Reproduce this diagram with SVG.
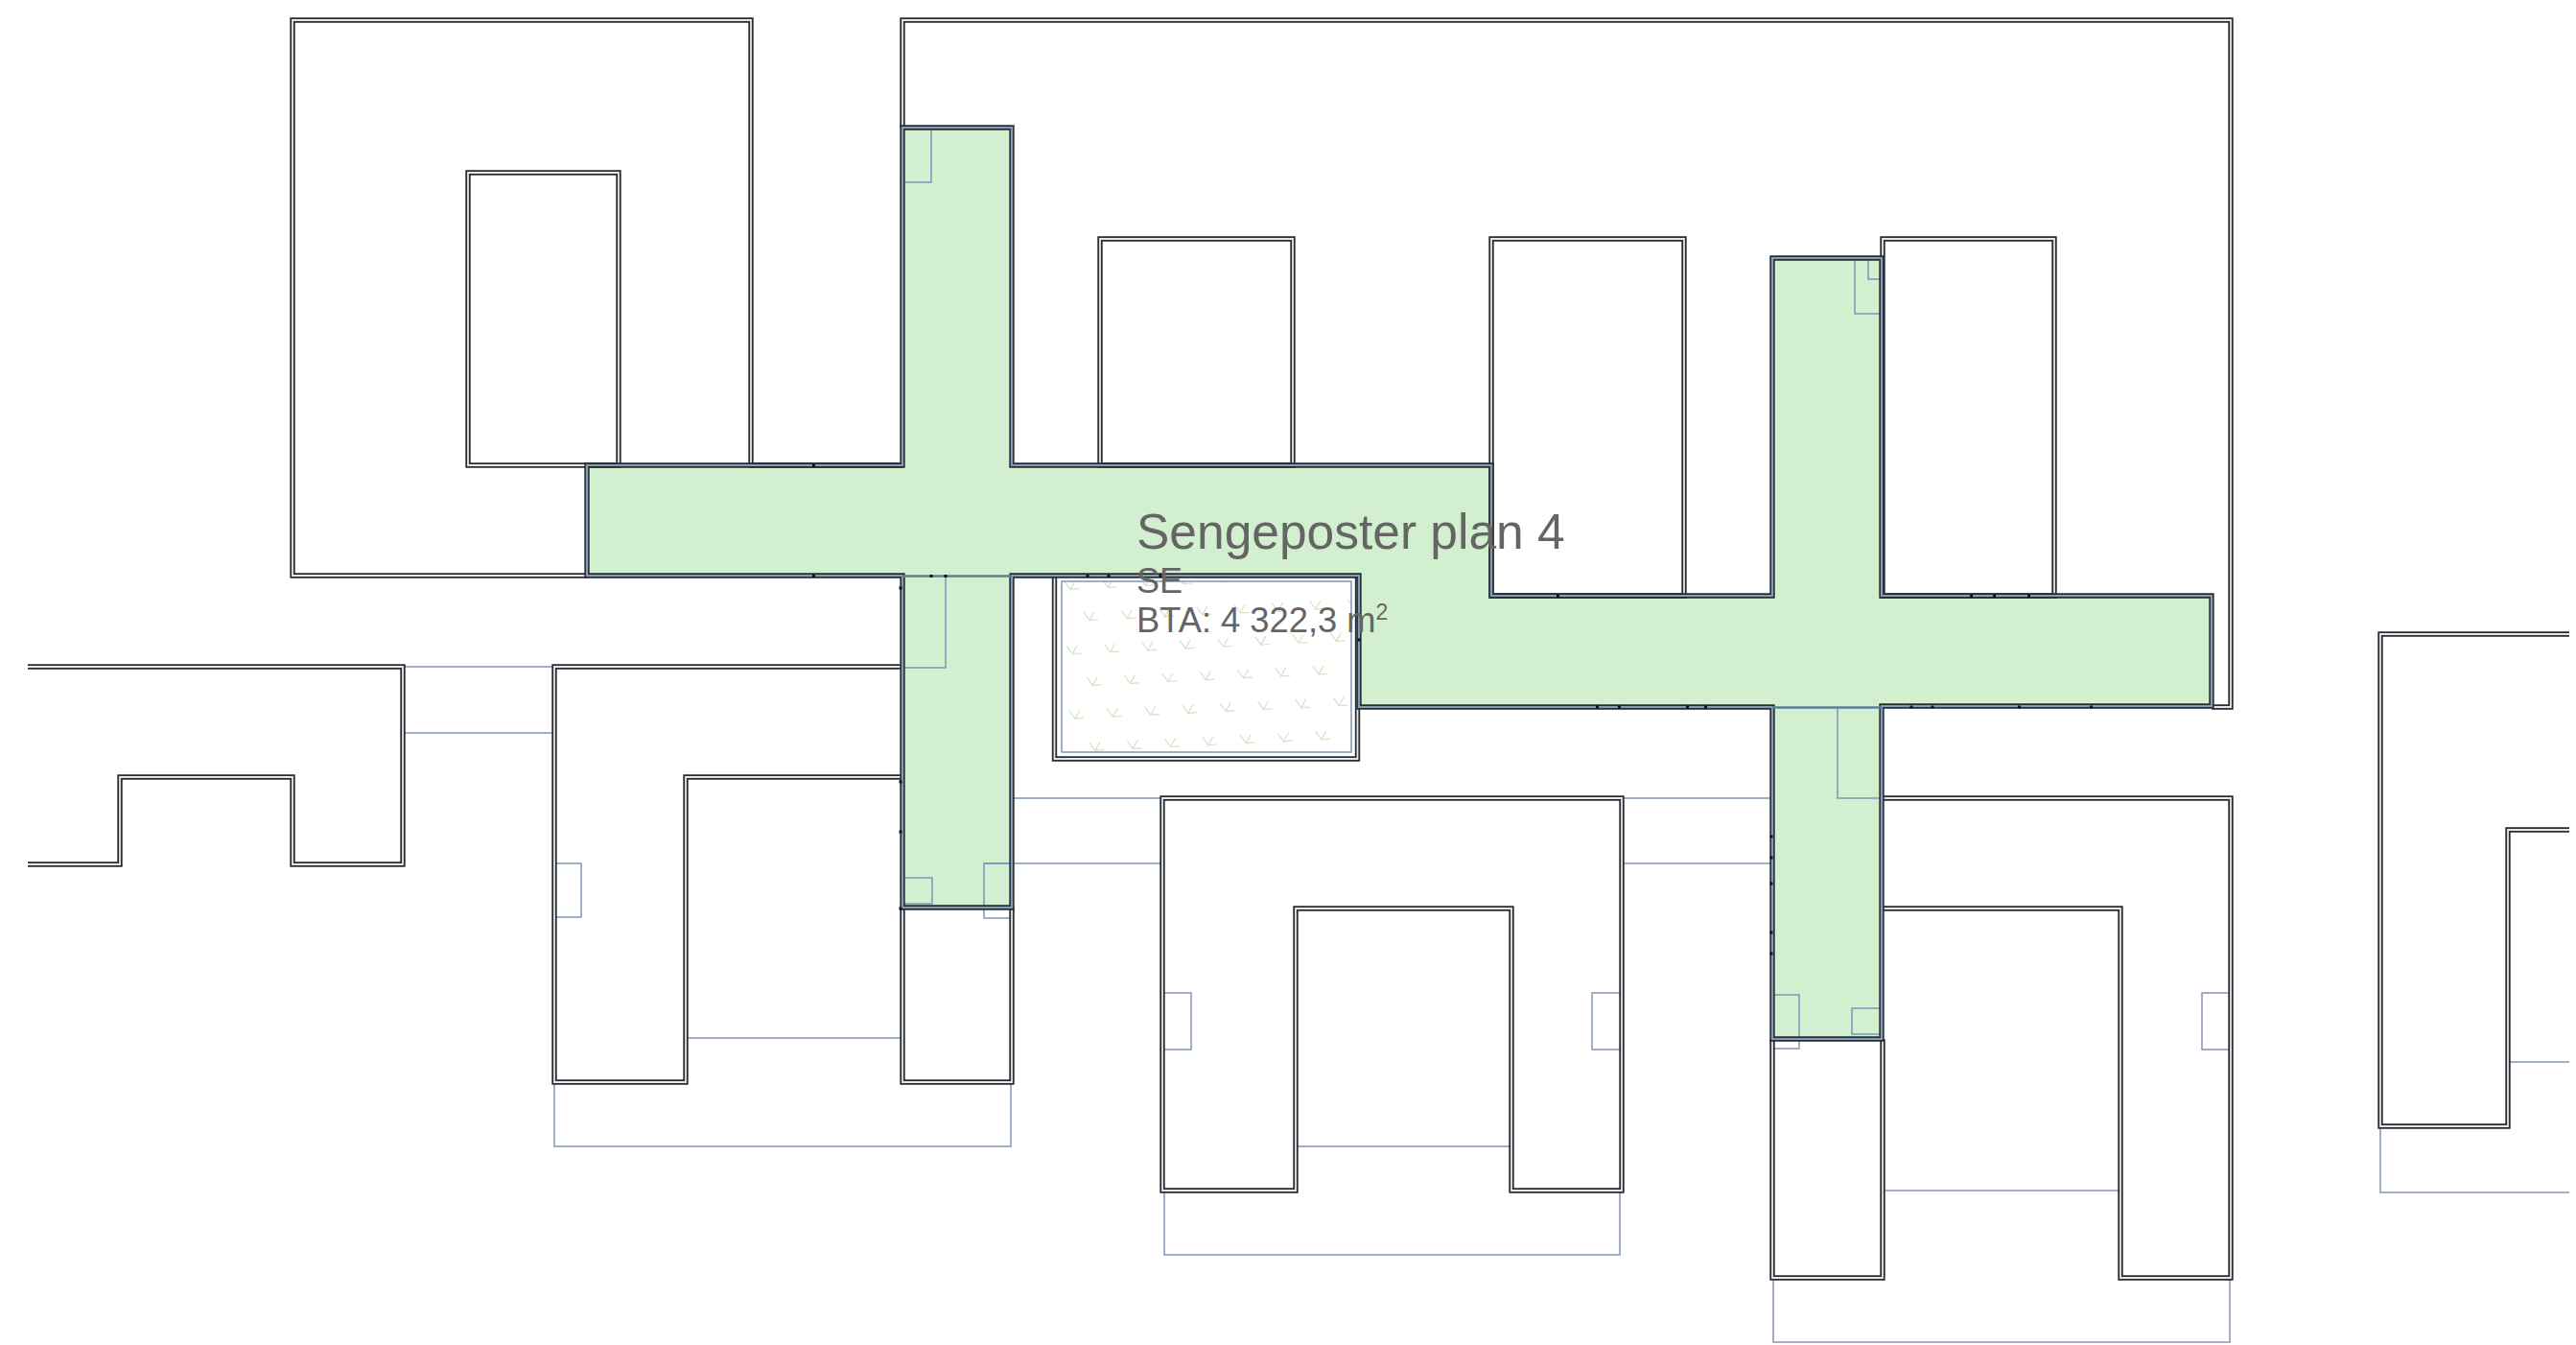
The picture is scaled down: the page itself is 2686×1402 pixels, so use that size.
<svg xmlns="http://www.w3.org/2000/svg" width="2686" height="1402" viewBox="0 0 2686 1402">
<style>
.wo{fill:none;stroke:#2a2d31;stroke-width:5.4;stroke-linejoin:miter}
.wi{fill:none;stroke:#e4e8ec;stroke-width:1.8;stroke-linejoin:miter}
.gi{fill:none;stroke:#7f9db6;stroke-width:2.2;stroke-linejoin:miter}
.b{fill:none;stroke:#7f95b5;stroke-width:1.5}
.t{fill:#656565;font-family:"Liberation Sans",Arial,sans-serif}
.k{fill:none;stroke:#d3e3c6;stroke-width:1.2}
</style>
<defs>
<path id="tick" d="M0 0L6 8.3L11-.7M6 8.3L15.3 7.7"/>
<clipPath id="cy"><rect x="1107" y="606" width="302" height="178"/></clipPath>
<path id="pa" d="M612 600H305V21H783V485H941"/>
<path id="pac" d="M488 180H645V485H488Z"/>
<path id="pb" d="M941 133V21H2326V737H2306"/>
<path id="pc" d="M1147 249H1348V485H1147Z"/>
<path id="pd" d="M1555 249H1756V621H1555Z"/>
<path id="pe" d="M1963 249H2142V621H1963Z"/>
<path id="pcy" d="M1099.500 600V791H1415.500V600"/>
<path id="pl" d="M29 695H420V901H305V810H125V901H29"/>
<path id="pf" d="M941 695H578V1128H715V810H941M941 946V1128H1055V946"/>
<path id="pg" d="M1212 832H1691V1241H1576V947H1351V1241H1212Z"/>
<path id="ph" d="M1962 832H2326V1332H2211V947H1962M1848 1083V1332H1963V1083"/>
<path id="pr" d="M2679 661H2482V1174H2615V865H2679"/>
<path id="pgreen" d="M941 133H1055V485H1555V621H1848V269H1962V621H2306V736H1962V1083H1848V737H1417V600H1055V946H941V600H612V485H941Z"/>
</defs>
<rect width="2686" height="1402" fill="#fff"/>
<g id="area-sengeposter"><use href="#pgreen" fill="#d2f0d0"/></g>
<g id="courtyard-planting" class="k" clip-path="url(#cy)">
<use href="#tick" x="1110" y="606"/><use href="#tick" x="1149.300" y="604.100"/><use href="#tick" x="1188.600" y="602.200"/><use href="#tick" x="1227.900" y="600.300"/><use href="#tick" x="1267.200" y="598.400"/>
<use href="#tick" x="1130" y="638.300"/><use href="#tick" x="1169.300" y="636.400"/><use href="#tick" x="1208.600" y="634.500"/><use href="#tick" x="1247.900" y="632.600"/><use href="#tick" x="1287.200" y="630.700"/><use href="#tick" x="1326.500" y="628.800"/><use href="#tick" x="1365.800" y="626.900"/><use href="#tick" x="1405.100" y="625"/>
<use href="#tick" x="1112.300" y="673.300"/><use href="#tick" x="1151.600" y="671.400"/><use href="#tick" x="1190.900" y="669.500"/><use href="#tick" x="1230.200" y="667.600"/><use href="#tick" x="1269.500" y="665.700"/><use href="#tick" x="1308.800" y="663.800"/><use href="#tick" x="1348.100" y="661.900"/><use href="#tick" x="1387.400" y="660"/>
<use href="#tick" x="1133.300" y="706"/><use href="#tick" x="1172.600" y="704.100"/><use href="#tick" x="1211.900" y="702.200"/><use href="#tick" x="1251.200" y="700.300"/><use href="#tick" x="1290.500" y="698.400"/><use href="#tick" x="1329.800" y="696.500"/><use href="#tick" x="1369.100" y="694.600"/>
<use href="#tick" x="1115" y="740.700"/><use href="#tick" x="1154.300" y="738.800"/><use href="#tick" x="1193.600" y="736.900"/><use href="#tick" x="1232.900" y="735"/><use href="#tick" x="1272.200" y="733.100"/><use href="#tick" x="1311.500" y="731.200"/><use href="#tick" x="1350.800" y="729.300"/><use href="#tick" x="1390.100" y="727.400"/>
<use href="#tick" x="1136" y="774"/><use href="#tick" x="1175.300" y="772.100"/><use href="#tick" x="1214.600" y="770.200"/><use href="#tick" x="1253.900" y="768.300"/><use href="#tick" x="1293.200" y="766.400"/><use href="#tick" x="1332.500" y="764.500"/><use href="#tick" x="1371.800" y="762.600"/>
</g>
<g id="connectors" class="b">
<rect x="1107" y="606" width="302" height="178"/>
<path d="M420 695H578M420 764H578"/>
<path d="M715 1082H941M578 1128V1195H1054V1128"/>
<path d="M1055 832H1212M1691 832H1848M1026 900H1212M1691 900H1848"/>
<path d="M1351 1195H1576M1214 1241V1308H1689V1241"/>
<path d="M1963 1241H2211M1849 1332V1399H2325V1332"/>
<path d="M2482 1174V1243H2679M2615 1107H2679"/>
<path d="M578 900H606V956H578M1214 1035H1242V1094H1214M1689 1035H1660V1094H1689M2325 1035H2296V1094H2325"/>
<path d="M941 190H971V134M941 696H986V600M1055 900H1026V957H1055M942 915H972V942H942"/>
<path d="M1962 327H1934V270M1962 291H1948V270M1916 737V832H1962M1848 1037H1876V1093H1848M1961 1051H1931V1078H1961"/>
</g>
<g id="building-a"><use href="#pa" class="wo"/><use href="#pa" class="wi"/><use href="#pac" class="wo"/><use href="#pac" class="wi"/></g>
<g id="building-b"><use href="#pb" class="wo"/><use href="#pb" class="wi"/><use href="#pc" class="wo"/><use href="#pc" class="wi"/><use href="#pd" class="wo"/><use href="#pd" class="wi"/><use href="#pe" class="wo"/><use href="#pe" class="wi"/></g>
<g id="building-left"><use href="#pl" class="wo"/><use href="#pl" class="wi"/></g>
<g id="building-f"><use href="#pf" class="wo"/><use href="#pf" class="wi"/></g>
<g id="building-g"><use href="#pg" class="wo"/><use href="#pg" class="wi"/></g>
<g id="building-h"><use href="#ph" class="wo"/><use href="#ph" class="wi"/></g>
<g id="building-right"><use href="#pr" class="wo"/><use href="#pr" class="wi"/></g>
<g id="courtyard-wall"><use href="#pcy" class="wo"/><use href="#pcy" class="wi"/></g>
<g id="area-wall"><use href="#pgreen" class="wo"/><use href="#pgreen" class="gi"/><path d="M941 600.500H1055M1848 737.500H1962" fill="none" stroke="#5f7d9a" stroke-width="2.500"/></g>
<path id="wall-marks" fill="#111" d="M969.500 599h3v3h-3zM984.500 599h3v3h-3zM1132.500 599h3v3h-3zM1154.500 599h3v3h-3zM1208.500 599h3v3h-3zM1415.500 665.500h3v3h-3zM937.500 611.500h3v3h-3zM937.500 813.500h3v3h-3zM937.500 865.500h3v3h-3zM937.500 945.500h3v3h-3zM1991.500 735.500h3v3h-3zM2013.500 735.500h3v3h-3zM1845.500 870.500h3v3h-3zM1845.500 892.500h3v3h-3zM1845.500 919.500h3v3h-3zM1845.500 970.500h3v3h-3zM1845.500 992.500h3v3h-3zM847 599h3v3h-3zM847 484h3v3h-3zM1664 735.500h3v3h-3zM1687 735.500h3v3h-3zM1758 735.500h3v3h-3zM1777 735.500h3v3h-3zM2104 735.500h3v3h-3zM2179 735.500h3v3h-3zM2054 620h3v3h-3zM2078 620h3v3h-3zM2114 620h3v3h-3zM1623 620h3v3h-3z"/>
<g id="label" class="t">
<text x="1185" y="572" font-size="51.500">Sengeposter plan 4</text>
<text x="1185" y="618" font-size="36">SE</text>
<text x="1185" y="659" font-size="36.300">BTA: 4 322,3 m<tspan font-size="23" dy="-13">2</tspan></text>
</g>
</svg>
